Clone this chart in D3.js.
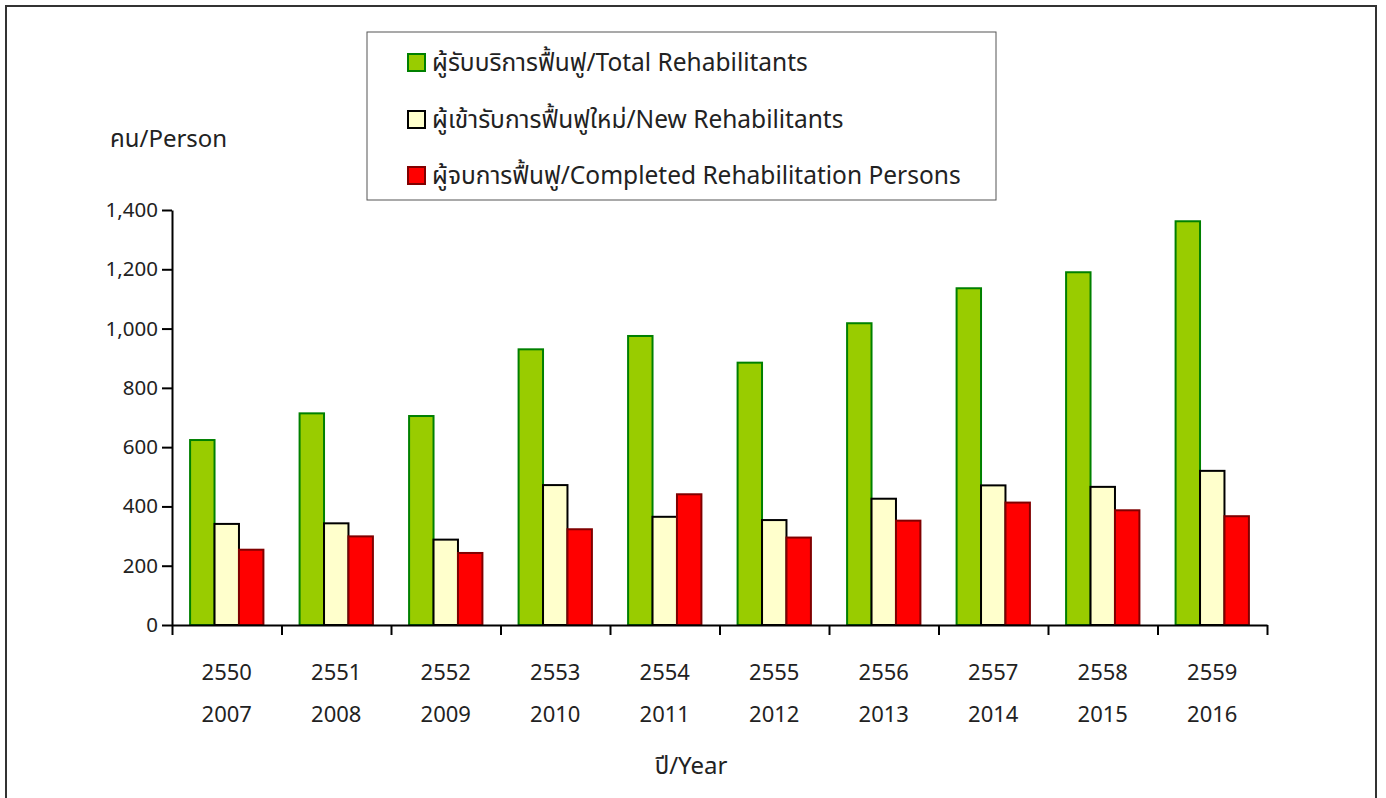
<!DOCTYPE html>
<html>
<head>
<meta charset="utf-8">
<script src="https://cdn.jsdelivr.net/npm/d3@7"></script>
<style>
  body { margin: 0; background: #fff; }
  text { font-family: "Noto Sans", "Noto Sans Thai", "Open Sans", sans-serif; fill: #222; }
</style>
</head>
<body>
<div id="chart"></div>
<script>
// data
var yearsTh = ["2550", "2551", "2552", "2553", "2554", "2555", "2556", "2557", "2558", "2559"];
var yearsEn = ["2007", "2008", "2009", "2010", "2011", "2012", "2013", "2014", "2015", "2016"];
var totalRehab = [624, 714, 705, 930, 975, 885, 1018, 1136, 1190, 1362];
var newRehab = [341, 343, 288, 472, 365, 354, 426, 471, 466, 520];
var completedRehab = [254, 299, 243, 323, 441, 295, 352, 413, 387, 367];
var seriesNames = [
  "ผู้รับบริการฟื้นฟู/Total Rehabilitants",
  "ผู้เข้ารับการฟื้นฟูใหม่/New Rehabilitants",
  "ผู้จบการฟื้นฟู/Completed Rehabilitation Persons"
];
var yTicks = [0, 200, 400, 600, 800, 1000, 1200, 1400];

var fills = ["#99cc00", "#ffffcc", "#ff0000"];
var strokes = ["#008000", "#000000", "#800000"];

var W = 1386, H = 798;
var font_size = 22;
var ytick_size = 20.5;
var title_size = 24;
var legend_size = 24.5;

var svg = d3.select("#chart")
  .append("svg")
    .attr("width", W)
    .attr("height", H);

// outer frame
svg.append("rect")
  .attr("x", 6).attr("y", 6)
  .attr("width", 1370).attr("height", 820)
  .attr("fill", "none")
  .attr("stroke", "#333")
  .attr("stroke-width", 2);

var plotLeft = 172, plotRight = 1267, plotTop = 210, plotBottom = 625;

var x = d3.scaleBand()
  .domain(yearsTh)
  .range([plotLeft, plotRight])
  .padding(0);

var xs = d3.scaleBand()
  .domain([0, 1, 2])
  .range([0, x.bandwidth()])
  .paddingInner(0)
  .paddingOuter(0.74);

var y = d3.scaleLinear()
  .domain([0, 1400])
  .range([plotBottom, plotTop]);

var rows = yearsTh.map(function(d, i) {
  return { key: d, vals: [totalRehab[i], newRehab[i], completedRehab[i]] };
});

// bars
var groups = svg.selectAll("g.grp")
  .data(rows)
  .enter()
  .append("g")
    .attr("class", "grp")
    .attr("transform", function(d) { return "translate(" + x(d.key) + ",0)"; });

groups.selectAll("rect")
  .data(function(d) { return d.vals.map(function(v, k) { return { k: k, v: v }; }); })
  .enter()
  .append("rect")
    .attr("x", function(d) { return xs(d.k); })
    .attr("y", function(d) { return y(d.v); })
    .attr("width", xs.bandwidth())
    .attr("height", function(d) { return plotBottom - y(d.v); })
    .attr("fill", function(d) { return fills[d.k]; })
    .attr("stroke", function(d) { return strokes[d.k]; })
    .attr("stroke-width", 2);

// Y axis
var yAxis = svg.append("g")
  .attr("transform", "translate(" + plotLeft + ",0)")
  .call(d3.axisLeft(y)
    .tickValues(yTicks)
    .tickSize(10)
    .tickSizeOuter(0)
    .tickPadding(4)
    .tickFormat(d3.format(",")));
yAxis.selectAll("text")
  .attr("font-size", ytick_size)
  .attr("fill", "#222");
yAxis.selectAll("line, path").attr("stroke", "#000").attr("stroke-width", 2);

// X axis: ticks between the categories
var xi = d3.scaleLinear().domain([0, yearsTh.length]).range([plotLeft, plotRight]);
var xAxis = svg.append("g")
  .attr("transform", "translate(0," + plotBottom + ")")
  .call(d3.axisBottom(xi)
    .ticks(yearsTh.length)
    .tickSize(10)
    .tickSizeOuter(0)
    .tickFormat(""));
xAxis.selectAll("line, path").attr("stroke", "#000").attr("stroke-width", 2);

// category labels (two lines)
var lab = svg.append("g")
  .attr("text-anchor", "middle");
lab.selectAll("text.th")
  .data(yearsTh)
  .join("text")
    .attr("class", "th")
    .attr("x", function(d) { return x(d) + x.bandwidth() / 2; })
    .attr("y", 672)
    .attr("dy", "0.35em")
    .attr("font-size", font_size)
    .text(function(d) { return d; });
lab.selectAll("text.en")
  .data(yearsEn)
  .join("text")
    .attr("class", "en")
    .attr("x", function(d, i) { return x(yearsTh[i]) + x.bandwidth() / 2; })
    .attr("y", 714)
    .attr("dy", "0.35em")
    .attr("font-size", font_size)
    .text(function(d) { return d; });

// axis titles
svg.append("text")
  .attr("x", 110).attr("y", 139)
  .attr("dy", "0.35em")
  .attr("font-size", title_size)
  .text("คน/Person");

svg.append("text")
  .attr("x", 691).attr("y", 766)
  .attr("dy", "0.35em")
  .attr("text-anchor", "middle")
  .attr("font-size", title_size)
  .text("ปี/Year");

// legend
var legend = svg.append("g");
legend.append("rect")
  .attr("x", 367).attr("y", 32)
  .attr("width", 629).attr("height", 168)
  .attr("fill", "#fff")
  .attr("stroke", "#555")
  .attr("stroke-width", 1);

var legendY = [62, 119, 175];
var li = legend.selectAll("g.item")
  .data(seriesNames)
  .enter()
  .append("g")
    .attr("class", "item")
    .attr("transform", function(d, i) { return "translate(408," + legendY[i] + ")"; });
li.append("rect")
  .attr("x", 0).attr("y", -8)
  .attr("width", 17).attr("height", 17)
  .attr("fill", function(d, i) { return fills[i]; })
  .attr("stroke", function(d, i) { return strokes[i]; })
  .attr("stroke-width", 2);
li.append("text")
  .attr("x", 24)
  .attr("dy", "0.35em")
  .attr("font-size", legend_size)
  .text(function(d) { return d; });
</script>
</body>
</html>
